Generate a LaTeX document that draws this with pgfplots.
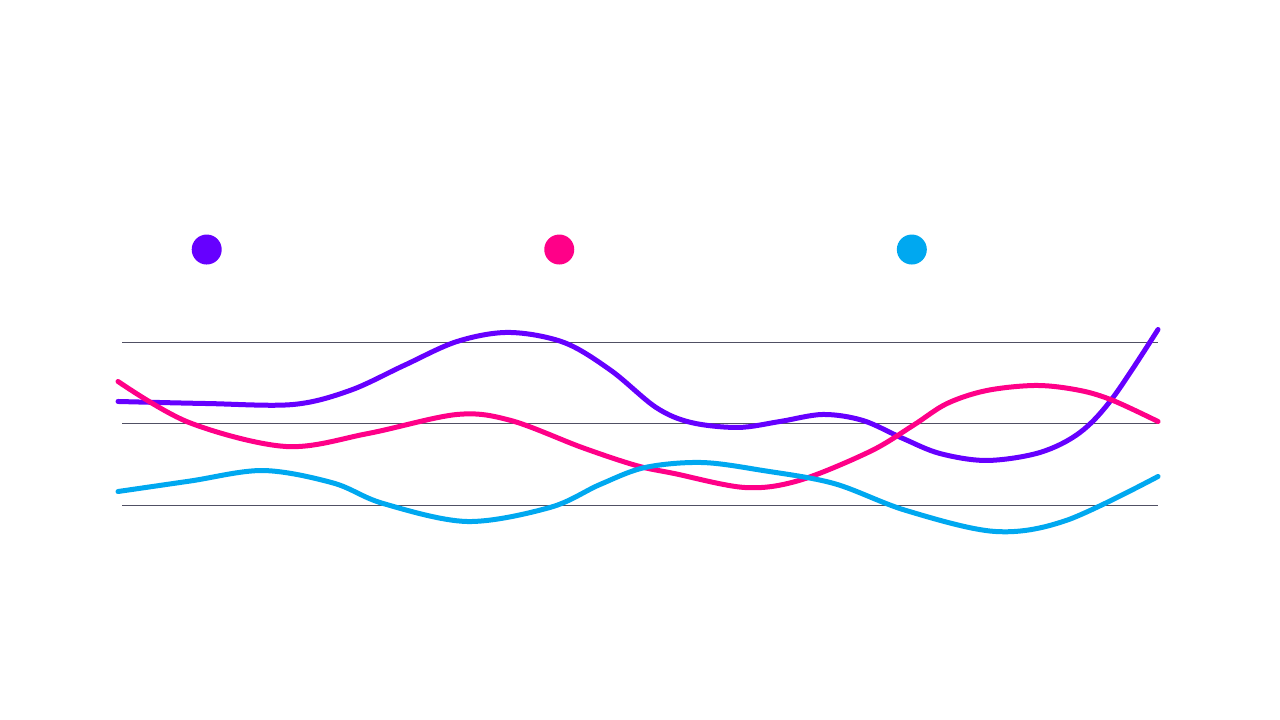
\documentclass[border=0pt]{standalone}
\usepackage{pgfplots}
\pgfplotsset{compat=1.18}
\definecolor{cpurple}{HTML}{6600FF}
\definecolor{cpink}{HTML}{FF0088}
\definecolor{cblue}{HTML}{00A8F0}
\definecolor{cgrid}{HTML}{505064}
\begin{document}
\begin{tikzpicture}
\path[use as bounding box] (0,0) rectangle (128mm,72mm);
\begin{axis}[
  at={(12.2mm,13.28mm)}, anchor=origin,
  scale only axis, width=103.6mm, height=32.68mm,
  xmin=122, xmax=1158, ymin=0, ymax=40,
  clip=false,
  axis line style={draw=none},
  ytick={10,20,30}, xtick=\empty,
  yticklabels={}, major tick length=0pt,
  ymajorgrids=true,
  grid style={cgrid, line width=0.1mm},
  every axis plot/.append style={line width=0.5mm, line cap=round, line join=round, smooth, tension=0.55, no markers},
  legend columns=3,
  legend style={draw=none, fill=none, at={(axis cs:191,41.33)}, anchor=west, inner sep=0pt,
    /tikz/every even column/.append style={column sep=30.85mm}},
  legend image code/.code={\fill[#1,draw=none] (0.15cm,0cm) circle (1.5mm);},
]
\addplot[cpurple] coordinates {
(118,22.73) (207,22.48) (293,22.36) (350,24.08) (404,27.14) (457,30.07) (509,31.18)
(564,29.95) (611,26.52) (656,22.0) (691,20.16) (738,19.55) (780,20.28) (823,21.14)
(863,20.40) (903,18.20) (940,16.36) (987,15.51) (1040,16.49) (1080,18.94) (1113,23.22) (1158,31.54)};
\addlegendentry{}
\addplot[cpink] coordinates {
(118,25.18) (189,20.16) (286,17.22) (368,18.81) (457,21.14) (511,20.40) (582,17.10)
(636,14.90) (674,13.92) (745,12.20) (799,13.06) (870,16.61) (913,19.79) (947,22.48)
(987,24.08) (1037,24.69) (1080,24.08) (1113,22.85) (1158,20.28)};
\addlegendentry{}
\addplot[cblue] coordinates {
(118,11.71) (190,12.99) (263,14.28) (333,12.76) (383,10.25) (467,8.04) (550,9.76)
(600,12.57) (645,14.65) (702,15.26) (763,14.28) (834,12.69) (906,9.39) (995,6.82) (1066,8.16) (1158,13.55)};
\addlegendentry{}
\end{axis}
\end{tikzpicture}
\end{document}
